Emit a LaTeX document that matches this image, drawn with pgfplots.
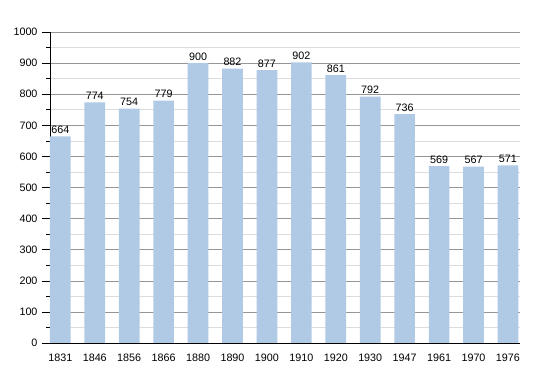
\documentclass[border=0pt]{standalone}
\usepackage{pgfplots}
\pgfplotsset{compat=1.18}
\usepackage{fontspec}
\setmainfont{Liberation Sans}
\definecolor{barblue}{RGB}{176,202,230}
\definecolor{majgrid}{RGB}{150,150,150}
\definecolor{mingrid}{RGB}{220,220,220}
\begin{document}
\begin{tikzpicture}
\begin{axis}[
  at={(0,0)}, anchor=south west,
  scale only axis, width=470bp, height=311bp,
  xmin=-0.3, xmax=13.35, ymin=0, ymax=1000,
  axis x line*=bottom, axis y line*=left,
  axis line style={black, line width=0.8pt},
  xtick=data,
  xticklabels={1831,1846,1856,1866,1880,1890,1900,1910,1920,1930,1947,1961,1970,1976},
  xtick style={draw=none},
  ytick={0,100,...,1000},
  minor ytick={50,150,...,950},
  ytick style={black, line width=0.6pt},
  tick align=outside,
  major tick length=8bp, minor tick length=4bp,
  ymajorgrids, yminorgrids,
  major grid style={majgrid, line width=0.6pt},
  minor grid style={mingrid, line width=0.6pt},
  tick label style={font=\fontsize{10.8}{12}\selectfont},
  /pgf/number format/assume math mode=true,
  /pgf/number format/1000 sep={},
  yticklabel style={xshift=-1bp},
  xticklabel style={yshift=1bp},
]
\addplot[ybar, bar width=0.6, fill=barblue, draw=none,
  nodes near coords, nodes near coords style={font=\fontsize{10.8}{12}\selectfont, inner sep=2.5bp, /pgf/number format/assume math mode=true}]
  coordinates {(0,664) (1,774) (2,754) (3,779) (4,900) (5,882) (6,877) (7,902) (8,861) (9,792) (10,736) (11,569) (12,567) (13,571)};
\end{axis}
\pgfresetboundingbox
\path (-50bp,-30bp) rectangle (500bp,343bp);
\end{tikzpicture}
\end{document}
